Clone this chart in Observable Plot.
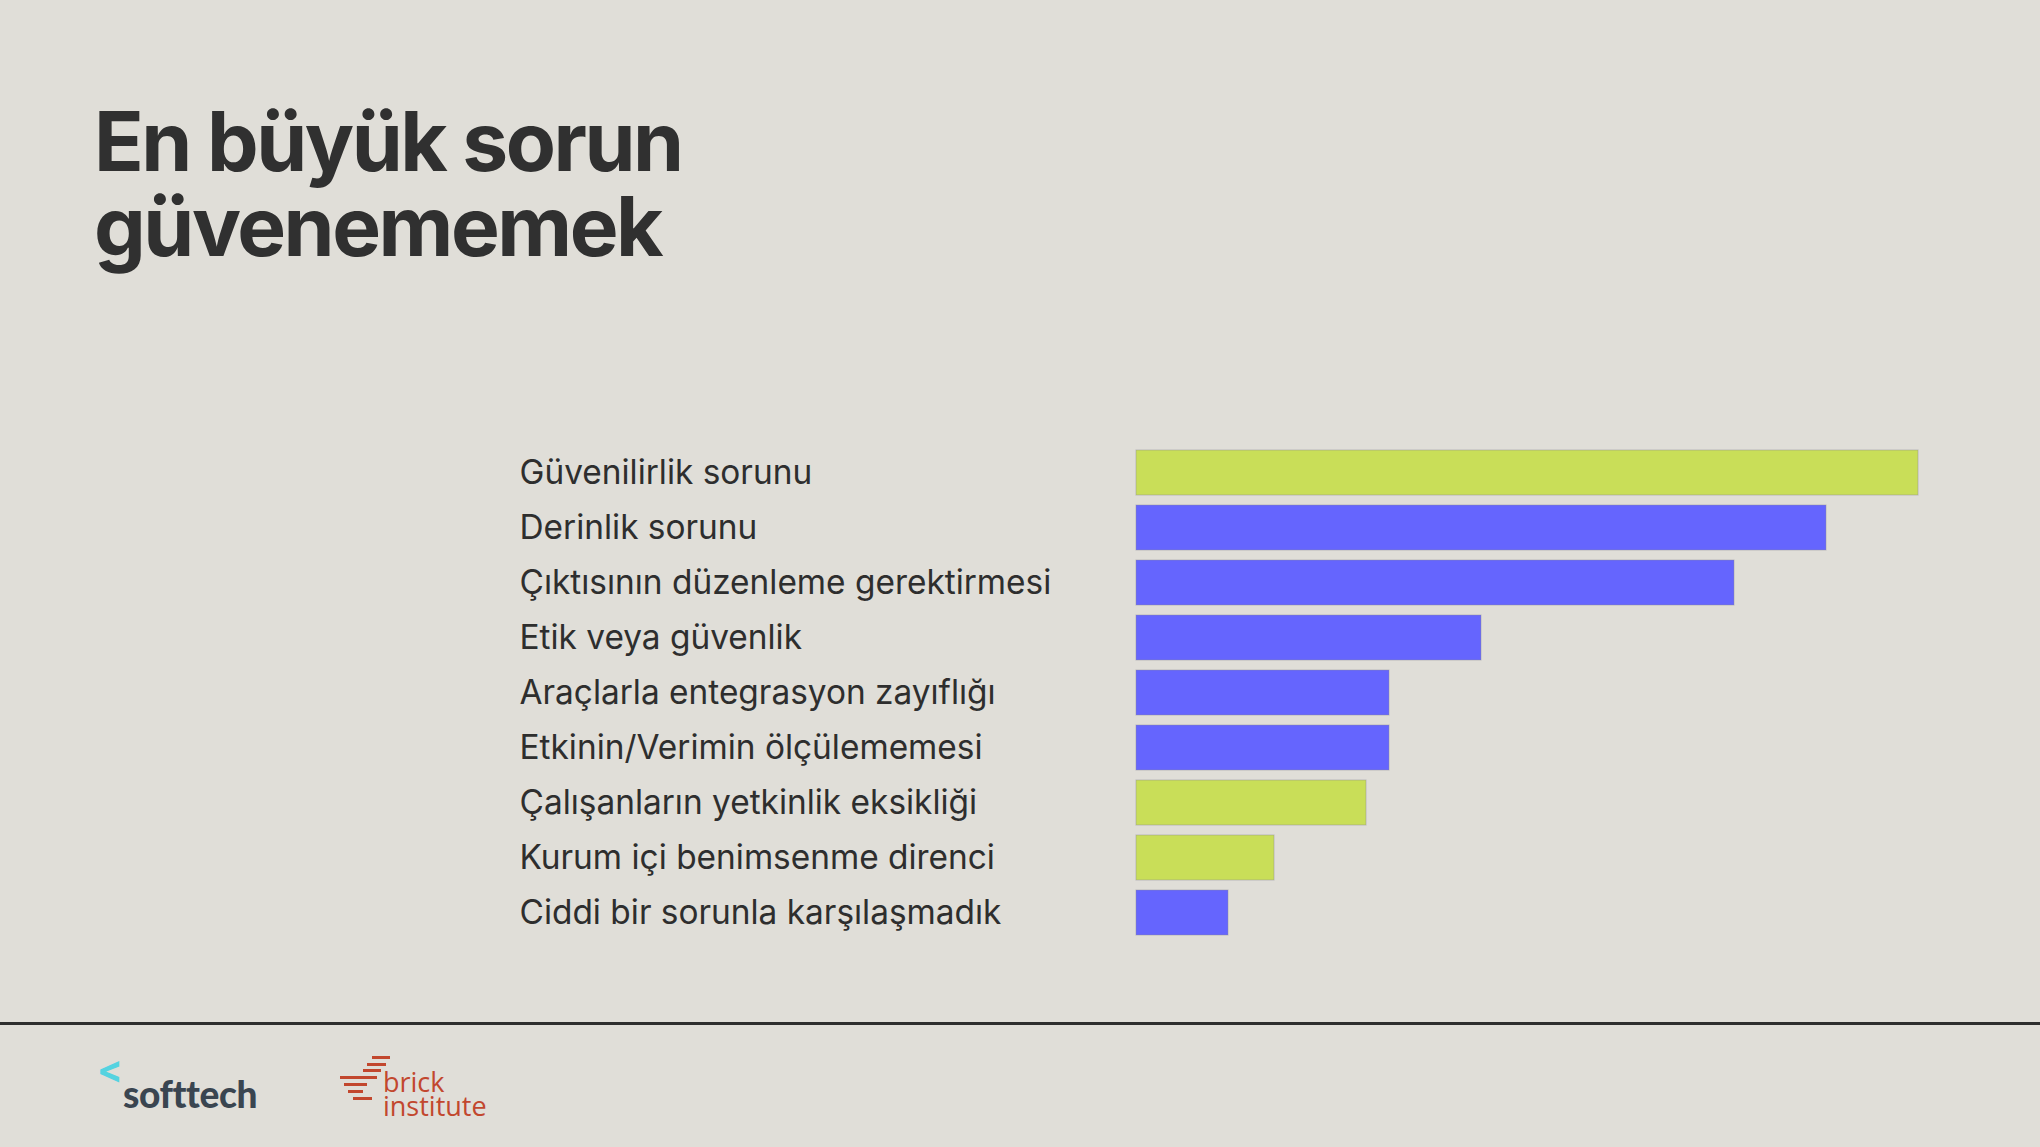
<!DOCTYPE html>
<html>
<head>
<meta charset="utf-8">
<script src="https://cdn.jsdelivr.net/npm/d3@7"></script>
<script src="https://cdn.jsdelivr.net/npm/@observablehq/plot@0.6"></script>
<style>
  html, body { margin: 0; padding: 0; }
  body { width: 2040px; height: 1147px; background: #e0ded8; position: relative; overflow: hidden; font-family: Inter, "DejaVu Sans", sans-serif; }
  #title { position: absolute; left: 94px; top: 99px; font-family: Inter, sans-serif; font-weight: 700; font-size: 82px; line-height: 85px; letter-spacing: -0.03em; color: #303030; margin: 0; }
  #chart { position: absolute; left: 0; top: 397px; }
  #rule { position: absolute; left: 0; top: 1022px; width: 2040px; height: 3px; background: #2e2e2e; }
  #softtech { position: absolute; left: 97px; top: 1056px; }
  #softtech .lt { position: absolute; left: 0; top: -10px; font-size: 38px; font-weight: 700; color: #55d3e0; }
  #softtech .nm { position: absolute; left: 26px; top: 15px; font-family: Lato, sans-serif; font-weight: 900; font-size: 37px; line-height: normal; color: #3a4550; letter-spacing: -0.01em; }
  #brick { position: absolute; left: 340px; top: 1052px; color: #c2472e; }
  #brick .s { position: absolute; height: 3px; background: #c2472e; }
  #brick .t { position: absolute; left: 43px; font-family: "Open Sans", sans-serif; font-size: 27px; line-height: 24px; white-space: nowrap; }
</style>
</head>
<body>
<h1 id="title">En büyük sorun<br>güvenememek</h1>
<div id="chart"></div>
<div id="rule"></div>
<div id="softtech"><span class="lt">&lt;</span><span class="nm">softtech</span></div>
<div id="brick">
  <div class="s" style="left:32px;top:4px;width:18px"></div>
  <div class="s" style="left:27px;top:11px;width:19px"></div>
  <div class="s" style="left:23px;top:17px;width:18px"></div>
  <div class="s" style="left:0px;top:24px;width:37px"></div>
  <div class="s" style="left:4px;top:31px;width:23px"></div>
  <div class="s" style="left:8px;top:38px;width:15px"></div>
  <div class="s" style="left:13px;top:45px;width:19px"></div>
  <div class="t" style="top:18px">brick</div>
  <div class="t" style="top:42px">institute</div>
</div>
<script>
const categories = [
  "Güvenilirlik sorunu",
  "Derinlik sorunu",
  "Çıktısının düzenleme gerektirmesi",
  "Etik veya güvenlik",
  "Araçlarla entegrasyon zayıflığı",
  "Etkinin/Verimin ölçülememesi",
  "Çalışanların yetkinlik eksikliği",
  "Kurum içi benimsenme direnci",
  "Ciddi bir sorunla karşılaşmadık"
];
const values = [34, 30, 26, 15, 11, 11, 10, 6, 4];
const groups = ["g", "b", "b", "b", "b", "b", "g", "g", "b"];

const data = categories.map((c, i) => ({label: c, value: values[i], group: groups[i]}));

const chart = Plot.plot({
  width: 2040,
  height: 570,
  marginLeft: 1136,
  marginRight: 122,
  marginTop: 40,
  marginBottom: 20,
  style: {background: "transparent", fontFamily: "Inter, sans-serif", fontSize: "33.4px", color: "#2e2e2e"},
  x: {domain: [0, 34], axis: null},
  y: {domain: categories, padding: 0.19, axis: null, label: null},
  color: {domain: ["g", "b"], range: ["#c9de58", "#6565fe"]},
  marks: [
    Plot.barX(data, {x: "value", y: "label", fill: "group", stroke: "#8a8a9a", strokeOpacity: 0.45, strokeWidth: 1}),
    Plot.axisY({tickSize: 0, tickPadding: 0, textAnchor: "start", dx: -617, fill: "#2e2e2e", fontSize: 33.4, label: null})
  ]
});
document.getElementById("chart").appendChild(chart);
</script>
</body>
</html>
